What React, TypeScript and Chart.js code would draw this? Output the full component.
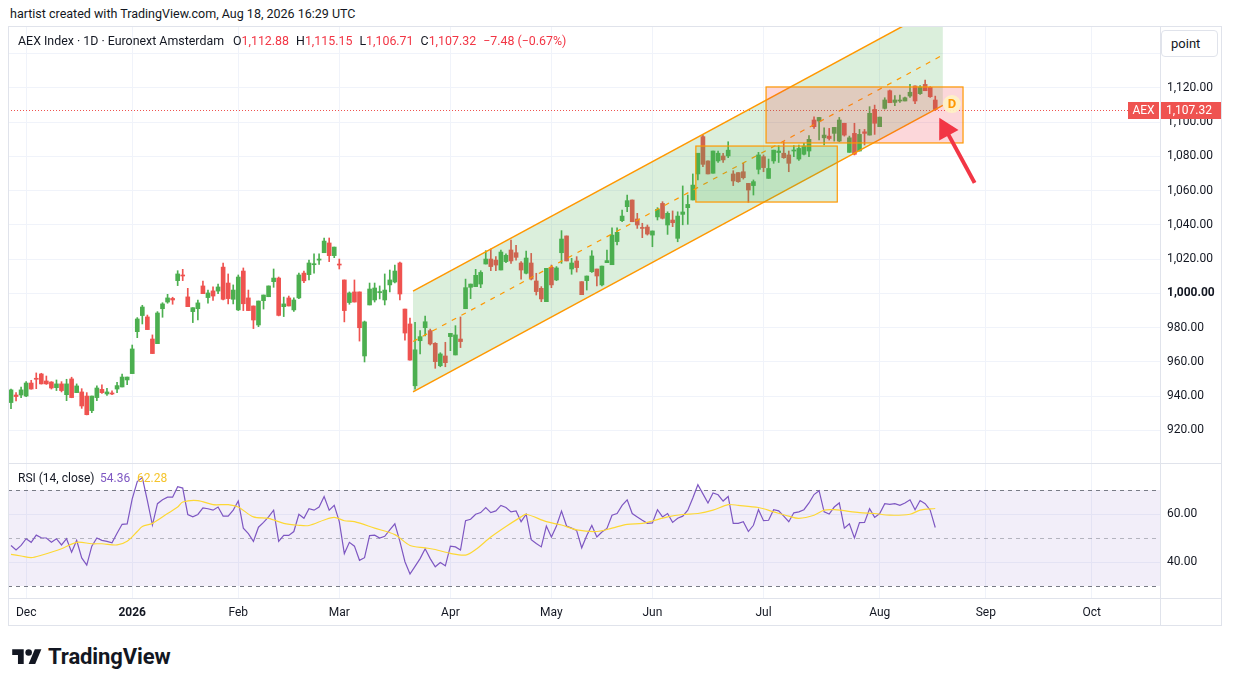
import React, { useEffect, useRef } from 'react';
import { Chart, registerables } from 'chart.js';

Chart.register(...registerables);

const FONT = 'Roboto, "Noto Sans", sans-serif';
const TEXT = '#131722';
const UP = '#4caf50';
const DOWN = '#ef5350';
const GRID = '#f0f3fa';
const ORANGE = '#ff9800';
const LINE = '#e0e3eb';

// AEX Index daily bars, 26 Nov 2025 .. 18 Aug 2026 (bar index 0..183)
const opens = [
  936.2, 940.6, 940.6, 940.0, 947.6, 950.2, 952.9, 948.8, 948.2, 944.9,
  947.1, 940.8, 950.0, 942.0, 942.4, 940.0, 931.5, 939.1, 943.9, 941.2,
  941.8, 944.1, 945.3, 949.4, 953.1, 977.6, 987.0, 986.2, 973.3, 970.6,
  991.0, 994.9, 997.0, 1007.4, 1010.7, 997.9, 989.3, 991.0, 1004.3, 997.5,
  1001.4, 1001.3, 1015.3, 1006.0, 996.5, 990.3, 1013.0, 997.3, 992.6, 981.5,
  995.7, 998.0, 1006.8, 1008.9, 992.2, 997.3, 990.3, 997.3, 1011.8, 1010.9,
  1016.7, 1019.4, 1023.7, 1029.4, 1022.0, 1016.9, 1007.8, 994.6, 1000.8, 1000.8,
  963.4, 993.2, 996.1, 1000.4, 996.1, 1004.9, 1006.6, 1017.7, 990.8, 982.1,
  946.0, 972.3, 979.9, 978.2, 970.8, 957.7, 963.4, 974.7, 964.0, 973.3,
  991.0, 1003.5, 1003.9, 1005.4, 1017.1, 1020.0, 1019.4, 1013.6, 1018.5, 1025.3,
  1023.7, 1017.7, 1011.7, 1017.7, 1007.2, 1002.9, 995.1, 1015.2, 1007.8, 1023.7,
  1033.5, 1014.2, 1018.9, 1006.8, 1007.4, 1012.6, 1014.2, 1004.9, 1017.9, 1016.7,
  1030.2, 1042.4, 1050.6, 1054.5, 1043.4, 1038.3, 1038.7, 1034.0, 1044.6, 1052.5,
  1039.9, 1042.8, 1032.1, 1046.1, 1050.0, 1054.5, 1069.7, 1091.5, 1077.3, 1070.1,
  1077.3, 1080.2, 1080.2, 1069.7, 1070.5, 1071.0, 1064.2, 1062.9, 1072.4, 1079.8,
  1067.1, 1077.3, 1082.2, 1081.8, 1080.8, 1083.1, 1078.4, 1081.2, 1083.1, 1101.2,
  1100.6, 1090.8, 1091.8, 1093.4, 1088.9, 1099.3, 1082.3, 1093.4, 1083.1, 1094.3,
  1092.4, 1107.4, 1097.3, 1108.0, 1118.3, 1111.5, 1112.3, 1112.3, 1115.2, 1121.1,
  1116.6, 1122.0, 1120.3, 1112.88,
];
const highs = [
  944.1, 942.0, 945.3, 948.4, 949.2, 953.5, 953.3, 951.7, 948.4, 949.4,
  948.4, 949.8, 951.0, 947.1, 944.3, 942.0, 940.0, 945.9, 946.5, 944.5,
  943.0, 948.0, 952.9, 951.1, 969.8, 985.8, 993.0, 987.3, 975.7, 989.3,
  994.5, 999.4, 997.7, 1013.2, 1014.0, 1002.9, 991.6, 996.0, 1007.2, 1001.9,
  1003.8, 1005.4, 1017.7, 1011.3, 1004.9, 1010.7, 1014.8, 1001.9, 992.6, 995.5,
  999.0, 1004.3, 1014.2, 1009.5, 997.8, 998.4, 997.3, 1011.8, 1013.0, 1019.4,
  1023.0, 1023.0, 1032.3, 1032.3, 1027.0, 1020.0, 1007.8, 1000.8, 1007.8, 1000.8,
  983.8, 1006.0, 1006.0, 1004.3, 1011.3, 1013.6, 1016.5, 1018.3, 990.8, 985.6,
  983.0, 978.2, 986.7, 979.1, 971.2, 965.3, 971.4, 976.6, 981.1, 986.2,
  1008.3, 1005.4, 1014.0, 1013.2, 1024.9, 1025.9, 1021.4, 1025.3, 1023.0, 1031.1,
  1028.0, 1018.5, 1024.7, 1023.3, 1011.7, 1003.9, 1014.6, 1016.5, 1015.6, 1036.6,
  1033.5, 1020.4, 1021.4, 1006.8, 1010.1, 1024.9, 1014.2, 1015.9, 1025.3, 1038.3,
  1038.3, 1048.6, 1057.4, 1054.5, 1046.7, 1040.9, 1039.9, 1036.4, 1050.0, 1053.5,
  1047.6, 1048.1, 1047.6, 1062.7, 1057.4, 1069.7, 1081.8, 1092.4, 1077.3, 1083.1,
  1083.1, 1081.8, 1088.5, 1071.6, 1070.5, 1075.9, 1064.2, 1066.2, 1082.3, 1080.8,
  1078.4, 1083.6, 1086.2, 1088.5, 1083.1, 1086.2, 1086.6, 1087.6, 1092.1, 1103.1,
  1102.7, 1096.7, 1096.3, 1096.9, 1102.7, 1099.3, 1091.8, 1099.3, 1095.7, 1095.7,
  1109.0, 1109.9, 1102.9, 1114.2, 1118.7, 1115.4, 1115.8, 1114.6, 1122.0, 1121.1,
  1121.3, 1124.5, 1120.7, 1115.15,
];
const lows = [
  932.7, 937.1, 939.1, 939.7, 944.0, 944.3, 947.0, 946.8, 944.1, 943.2,
  942.4, 937.3, 939.0, 942.0, 932.8, 929.0, 930.3, 937.3, 941.6, 940.4,
  940.8, 942.0, 945.3, 946.7, 953.1, 974.1, 982.1, 978.8, 964.8, 970.6,
  986.0, 994.2, 993.6, 1004.5, 1007.4, 992.2, 982.9, 984.4, 999.8, 994.2,
  995.8, 999.8, 996.1, 993.8, 993.8, 989.9, 989.9, 989.9, 979.4, 980.5,
  990.8, 998.0, 1003.5, 986.8, 986.4, 992.6, 989.4, 996.9, 1006.2, 1007.8,
  1011.8, 1016.9, 1023.7, 1018.5, 1020.8, 1014.2, 983.3, 993.6, 994.9, 972.1,
  959.9, 993.2, 994.9, 996.7, 993.2, 1000.8, 1006.0, 996.1, 972.7, 961.0,
  944.0, 964.6, 975.1, 969.8, 956.2, 957.1, 957.1, 966.5, 964.0, 968.3,
  991.0, 996.9, 1003.9, 1003.3, 1017.1, 1013.2, 1013.2, 1013.6, 1017.9, 1017.5,
  1019.4, 1008.3, 1011.3, 1007.8, 999.0, 995.1, 995.1, 1003.3, 1007.4, 1017.5,
  1018.9, 1011.1, 1012.4, 999.2, 1001.9, 1012.2, 1004.3, 1004.3, 1017.9, 1016.7,
  1028.2, 1041.8, 1047.6, 1041.8, 1037.9, 1032.5, 1034.0, 1027.2, 1042.8, 1043.4,
  1034.4, 1038.9, 1030.1, 1040.0, 1040.3, 1054.5, 1066.2, 1074.0, 1069.7, 1070.1,
  1076.4, 1076.4, 1079.2, 1062.9, 1064.8, 1066.7, 1053.1, 1057.4, 1069.7, 1071.0,
  1067.1, 1075.9, 1076.4, 1078.8, 1071.0, 1079.8, 1077.6, 1080.8, 1079.8, 1096.3,
  1089.5, 1086.6, 1089.5, 1088.9, 1088.5, 1091.8, 1082.3, 1080.8, 1083.1, 1086.6,
  1092.4, 1092.8, 1097.3, 1107.6, 1111.3, 1109.6, 1111.5, 1112.3, 1114.4, 1110.8,
  1116.2, 1118.3, 1114.4, 1106.71,
];
const closes = [
  943.6, 939.7, 943.6, 947.6, 944.1, 949.8, 947.1, 947.1, 944.7, 947.1,
  943.2, 947.1, 939.1, 945.9, 934.2, 929.1, 940.0, 944.7, 942.0, 942.4,
  941.2, 946.1, 951.1, 951.1, 967.5, 985.0, 992.0, 978.8, 964.8, 988.5,
  993.8, 997.3, 996.1, 1011.3, 1010.1, 992.2, 991.6, 994.4, 999.8, 1000.2,
  998.4, 1003.7, 996.5, 996.9, 1001.9, 1009.5, 993.9, 989.9, 984.4, 995.5,
  999.0, 1004.3, 1008.9, 987.1, 993.8, 992.6, 996.1, 1010.7, 1007.3, 1017.7,
  1017.1, 1020.0, 1030.5, 1022.0, 1027.0, 1016.5, 989.9, 1000.2, 994.9, 979.9,
  983.3, 1002.5, 1003.1, 1000.8, 1001.9, 1007.8, 1013.0, 999.6, 976.8, 961.0,
  967.0, 974.7, 983.4, 970.4, 960.1, 964.6, 959.5, 976.6, 975.7, 971.8,
  1003.3, 1005.4, 1010.5, 1012.2, 1020.0, 1015.6, 1016.5, 1024.1, 1022.2, 1018.9,
  1021.0, 1013.6, 1020.6, 1008.3, 1001.0, 996.7, 1014.6, 1004.9, 1014.8, 1031.7,
  1018.9, 1017.7, 1015.0, 999.2, 1010.1, 1021.8, 1010.1, 1015.9, 1019.1, 1034.0,
  1035.6, 1045.1, 1054.1, 1041.8, 1039.9, 1037.9, 1034.6, 1036.4, 1049.0, 1043.8,
  1046.7, 1041.2, 1045.1, 1047.5, 1051.9, 1063.2, 1081.8, 1075.3, 1069.7, 1083.1,
  1081.8, 1077.9, 1083.6, 1065.6, 1065.2, 1067.5, 1060.3, 1065.2, 1080.8, 1073.4,
  1072.9, 1083.6, 1083.1, 1079.2, 1075.9, 1083.6, 1084.6, 1086.0, 1089.9, 1097.3,
  1102.7, 1092.4, 1090.4, 1096.9, 1101.2, 1092.4, 1090.8, 1081.2, 1092.8, 1093.4,
  1105.1, 1099.3, 1102.9, 1112.9, 1111.3, 1112.9, 1112.7, 1114.2, 1117.4, 1112.3,
  1120.5, 1118.3, 1114.8, 1107.32,
];

// RSI(14, close), one value per bar
const rsiValues = [
  46.9, 45.0, 46.9, 49.7, 48.2, 51.2, 50.1, 50.0, 48.2, 49.7,
  47.1, 49.7, 44.1, 49.0, 41.7, 38.7, 46.6, 50.0, 49.0, 48.6,
  48.0, 52.0, 55.7, 55.9, 66.3, 73.5, 75.2, 65.6, 55.4, 64.3,
  65.9, 67.0, 67.0, 71.4, 70.8, 59.8, 58.8, 59.8, 62.5, 62.2,
  61.6, 62.9, 59.1, 59.1, 61.6, 65.4, 54.1, 51.8, 48.6, 54.5,
  56.5, 58.8, 61.6, 48.6, 51.1, 51.1, 52.7, 59.9, 58.2, 62.2,
  61.6, 62.9, 67.3, 61.6, 63.6, 56.8, 43.5, 48.2, 46.6, 40.7,
  41.8, 51.0, 51.2, 50.0, 50.7, 53.4, 55.9, 48.6, 40.1, 35.0,
  38.2, 41.4, 45.5, 41.4, 38.0, 39.8, 38.4, 46.6, 46.3, 45.0,
  57.2, 57.8, 59.9, 60.6, 62.7, 60.6, 61.3, 63.6, 62.7, 60.9,
  61.3, 56.8, 59.9, 49.3, 47.7, 46.3, 55.0, 50.4, 55.0, 61.2,
  55.0, 54.1, 53.1, 45.9, 51.0, 55.2, 50.4, 52.5, 54.0, 59.5,
  60.2, 63.6, 65.9, 60.2, 58.8, 57.4, 56.1, 56.3, 61.8, 58.8,
  60.2, 56.5, 58.2, 59.1, 61.6, 66.7, 72.2, 68.4, 64.6, 68.8,
  68.0, 65.4, 67.3, 56.1, 56.1, 56.8, 52.7, 55.3, 61.8, 57.2,
  57.4, 61.8, 61.3, 59.1, 56.8, 60.5, 60.9, 61.8, 64.6, 68.1,
  69.7, 60.9, 60.0, 62.9, 64.6, 54.1, 55.9, 50.0, 56.4, 56.5,
  62.2, 58.6, 60.2, 64.3, 64.0, 64.3, 63.6, 64.6, 65.9, 61.8,
  65.6, 64.3, 61.6, 54.36,
];

// RSI-based moving average, read at these bars
const maBars = [
  0, 2, 4, 6, 10, 13, 16, 18, 21, 23, 25, 26, 28, 31, 33, 34, 37, 40, 43, 45,
  48, 51, 54, 57, 59, 62, 64, 66, 68, 72, 76, 79, 82, 84, 87, 90, 92, 95, 98, 101,
  102, 106, 109, 112, 116, 119, 122, 125, 127, 130, 133, 136, 139, 142, 144, 148, 151, 154, 156, 159,
  161, 163, 168, 171, 174, 178, 180, 183,
];
const maValues = [
  43.2, 42.5, 41.8, 42.8, 45.5, 48.2, 47.6, 47.6, 47.1, 48.6, 52.7, 54.8, 56.1, 60.2, 62.9, 65.0, 65.6, 63.9, 63.9, 62.9,
  58.8, 58.2, 56.1, 55.3, 55.2, 57.5, 58.6, 57.2, 56.8, 54.1, 51.4, 46.9, 45.9, 45.2, 43.6, 42.9, 45.2, 50.4, 54.8, 58.8,
  59.9, 56.8, 55.4, 53.4, 52.7, 54.1, 55.7, 56.1, 57.1, 58.8, 59.8, 60.2, 61.6, 63.9, 63.6, 62.7, 60.9, 59.1, 58.2, 59.5,
  61.6, 61.8, 60.6, 60.2, 59.5, 59.9, 61.6, 62.28,
];

// time axis: first bar of each month
const monthBars = [3, 24, 45, 65, 87, 107, 127, 149, 172, 193, 214];
const monthLabels = ['Dec', '2026', 'Feb', 'Mar', 'Apr', 'May', 'Jun', 'Jul', 'Aug', 'Sep', 'Oct'];

const priceTicks = [920, 940, 960, 980, 1000, 1020, 1040, 1060, 1080, 1100, 1120, 1140];
const rsiTicks = [40, 60];
const rsiBands = [70, 50, 30];

// drawings, anchored in (bar index, price)
const channelBars = [79.6, 184.5];
const channelLower = [942.4, 1109.7];
const channelUpper = [1001.3, 1168.6];
const greenBoxBars = [135.6, 163.6];
const greenBoxPrices = [1053.3, 1086.0];
const pinkBoxBars = [149.5, 188.5];
const pinkBoxPrices = [1087.8, 1120.5];
const arrowTail = [190.8, 1064.5];
const arrowTip = [183.8, 1102.5];
const dMark = [186.3, 1110.5];

const X_MIN = -0.594;
const X_MAX = 227.5;
const AXIS_W = 62;

const fmt = (v: number) =>
  v.toLocaleString('en-US', { minimumFractionDigits: 2, maximumFractionDigits: 2 });

const zeroPad = (s: any) => {
  s.paddingLeft = 0;
  s.paddingRight = 0;
  s.paddingTop = 0;
  s.paddingBottom = 0;
};

const monthAxis = (showLabels: boolean) => ({
  type: 'linear' as const,
  min: X_MIN,
  max: X_MAX,
  offset: false,
  grid: { color: GRID, drawTicks: false, offset: false },
  border: { display: false },
  afterBuildTicks: (s: any) => {
    s.ticks = monthBars.map((v) => ({ value: v }));
  },
  ticks: {
    display: showLabels,
    autoSkip: false,
    maxRotation: 0,
    padding: 8,
    color: TEXT,
    font: (ctx: any) => ({ family: FONT, size: 12, weight: ctx.tick && ctx.tick.value === 24 ? 'bold' : 'normal' }),
    callback: (v: any) => {
      const i = monthBars.indexOf(v);
      return i >= 0 ? monthLabels[i] : '';
    },
  },
  afterFit: (s: any) => {
    s.height = showLabels ? 28 : 0;
    zeroPad(s);
  },
});

const drawings = {
  id: 'drawings',
  beforeDatasetsDraw(chart: any) {
    const { ctx, chartArea, scales } = chart;
    const py = Math.round(scales.y.getPixelForValue(closes[closes.length - 1])) + 0.5;
    ctx.save();
    ctx.strokeStyle = DOWN;
    ctx.lineWidth = 1;
    ctx.setLineDash([1, 2]);
    ctx.beginPath();
    ctx.moveTo(chartArea.left, py);
    ctx.lineTo(chartArea.right, py);
    ctx.stroke();
    ctx.restore();
  },
  afterDatasetsDraw(chart: any) {
    const { ctx, chartArea, scales } = chart;
    const X = (v: number) => scales.x.getPixelForValue(v);
    const Y = (v: number) => scales.y.getPixelForValue(v);
    ctx.save();
    ctx.beginPath();
    ctx.rect(chartArea.left, chartArea.top, chartArea.right - chartArea.left, chartArea.bottom - chartArea.top);
    ctx.clip();

    // parallel channel
    const x0 = X(channelBars[0]);
    const x1 = X(channelBars[1]);
    ctx.fillStyle = 'rgba(76,175,80,0.2)';
    ctx.beginPath();
    ctx.moveTo(x0, Y(channelLower[0]));
    ctx.lineTo(x1, Y(channelLower[1]));
    ctx.lineTo(x1, Y(channelUpper[1]));
    ctx.lineTo(x0, Y(channelUpper[0]));
    ctx.closePath();
    ctx.fill();
    ctx.strokeStyle = ORANGE;
    ctx.lineWidth = 1.5;
    [channelLower, channelUpper].forEach((p) => {
      ctx.beginPath();
      ctx.moveTo(x0, Y(p[0]));
      ctx.lineTo(x1, Y(p[1]));
      ctx.stroke();
    });
    ctx.setLineDash([5, 6]);
    ctx.lineWidth = 1.2;
    ctx.beginPath();
    ctx.moveTo(x0, Y((channelLower[0] + channelUpper[0]) / 2));
    ctx.lineTo(x1, Y((channelLower[1] + channelUpper[1]) / 2));
    ctx.stroke();
    ctx.setLineDash([]);

    // rectangles
    const box = (bars: number[], prices: number[], fill: string) => {
      const l = X(bars[0]);
      const r = X(bars[1]);
      const t = Y(prices[1]);
      const b = Y(prices[0]);
      ctx.fillStyle = fill;
      ctx.fillRect(l, t, r - l, b - t);
      ctx.strokeStyle = ORANGE;
      ctx.lineWidth = 1.2;
      ctx.strokeRect(l, t, r - l, b - t);
    };
    box(greenBoxBars, greenBoxPrices, 'rgba(76,175,80,0.2)');
    box(pinkBoxBars, pinkBoxPrices, 'rgba(242,54,69,0.2)');

    // arrow
    const sx = X(arrowTail[0]);
    const sy = Y(arrowTail[1]);
    const tx = X(arrowTip[0]);
    const ty = Y(arrowTip[1]);
    const len = Math.hypot(tx - sx, ty - sy);
    const ux = (tx - sx) / len;
    const uy = (ty - sy) / len;
    const hl = 20;
    const hw = 11;
    const bx = tx - ux * hl;
    const by = ty - uy * hl;
    ctx.strokeStyle = '#f23645';
    ctx.fillStyle = '#f23645';
    ctx.lineWidth = 4;
    ctx.beginPath();
    ctx.moveTo(sx, sy);
    ctx.lineTo(bx + ux * 2, by + uy * 2);
    ctx.stroke();
    ctx.beginPath();
    ctx.moveTo(tx, ty);
    ctx.lineTo(bx - uy * hw, by + ux * hw);
    ctx.lineTo(bx + uy * hw, by - ux * hw);
    ctx.closePath();
    ctx.fill();

    // "D" label
    const dx = X(dMark[0]);
    const dy = Y(dMark[1]);
    ctx.fillStyle = 'rgba(255,243,196,0.9)';
    ctx.beginPath();
    ctx.arc(dx, dy, 9, 0, Math.PI * 2);
    ctx.fill();
    ctx.fillStyle = ORANGE;
    ctx.font = `bold 13px ${FONT}`;
    ctx.textAlign = 'center';
    ctx.textBaseline = 'middle';
    ctx.fillText('D', dx, dy + 0.5);
    ctx.restore();
  },
  afterDraw(chart: any) {
    const { ctx, chartArea, scales } = chart;
    const last = closes[closes.length - 1];
    const py = Math.round(scales.y.getPixelForValue(last));
    const r = chartArea.right;
    ctx.save();
    ctx.fillStyle = DOWN;
    ctx.fillRect(r - 32, py - 8, 31, 17);
    ctx.fillRect(r + 1, py - 8, AXIS_W - 2, 17);
    ctx.fillStyle = '#ffffff';
    ctx.font = `12px ${FONT}`;
    ctx.textBaseline = 'middle';
    ctx.textAlign = 'center';
    ctx.fillText('AEX', r - 16.5, py + 0.5);
    ctx.textAlign = 'left';
    ctx.fillText(fmt(last), r + 6, py + 0.5);
    ctx.restore();
  },
};

const rsiLevels = {
  id: 'rsiLevels',
  beforeDatasetsDraw(chart: any) {
    const { ctx, chartArea, scales } = chart;
    const Y = (v: number) => scales.y.getPixelForValue(v);
    ctx.save();
    ctx.fillStyle = 'rgba(126,87,194,0.1)';
    ctx.fillRect(chartArea.left, Y(rsiBands[0]), chartArea.right - chartArea.left, Y(rsiBands[2]) - Y(rsiBands[0]));
    ctx.lineWidth = 1;
    ctx.setLineDash([4, 4]);
    rsiBands.forEach((v, i) => {
      ctx.strokeStyle = i === 1 ? 'rgba(120,123,134,0.5)' : '#787b86';
      const y = Math.round(Y(v)) + 0.5;
      ctx.beginPath();
      ctx.moveTo(chartArea.left, y);
      ctx.lineTo(chartArea.right, y);
      ctx.stroke();
    });
    ctx.restore();
  },
};

function PriceChart() {
  const ref = useRef<HTMLCanvasElement>(null);
  useEffect(() => {
    if (!ref.current) return;
    const colors = closes.map((c, i) => (c >= opens[i] ? UP : DOWN));
    const chart = new Chart(ref.current, {
      type: 'bar',
      data: {
        datasets: [
          {
            data: closes.map((_, i) => ({ x: i, y: [lows[i], highs[i]] })) as any,
            backgroundColor: colors,
            barThickness: 1,
            grouped: false,
          },
          {
            data: closes.map((c, i) => ({ x: i, y: [opens[i], c] })) as any,
            backgroundColor: colors,
            barThickness: 4,
            minBarLength: 1,
            grouped: false,
          },
        ],
      },
      options: {
        responsive: false,
        animation: false,
        layout: { padding: 0 },
        plugins: { legend: { display: false }, tooltip: { enabled: false } },
        scales: {
          x: monthAxis(false) as any,
          y: {
            position: 'right',
            min: 900.9,
            max: 1156.1,
            grid: { color: GRID, drawTicks: false },
            border: { display: false },
            afterBuildTicks: (s: any) => {
              s.ticks = priceTicks.map((v) => ({ value: v }));
            },
            ticks: {
              padding: 7,
              color: TEXT,
              font: (ctx: any) => ({ family: FONT, size: 12, weight: ctx.tick && ctx.tick.value === 1000 ? 'bold' : 'normal' }),
              callback: (v: any) => (v === 1140 ? '' : fmt(v)),
            },
            afterFit: (s: any) => {
              s.width = AXIS_W;
              zeroPad(s);
            },
          },
        },
      },
      plugins: [drawings],
    });
    return () => chart.destroy();
  }, []);
  return <canvas ref={ref} width={1214} height={437} style={{ position: 'absolute', left: 8, top: 26 }} />;
}

function RsiChart() {
  const ref = useRef<HTMLCanvasElement>(null);
  useEffect(() => {
    if (!ref.current) return;
    const chart = new Chart(ref.current, {
      type: 'line',
      data: {
        datasets: [
          {
            data: maBars.map((b, i) => ({ x: b, y: maValues[i] })),
            borderColor: '#fdd835',
            borderWidth: 1.2,
            pointRadius: 0,
            tension: 0.3,
          },
          {
            data: rsiValues.map((v, i) => ({ x: i, y: v })),
            borderColor: '#7e57c2',
            borderWidth: 1.2,
            pointRadius: 0,
          },
        ],
      },
      options: {
        responsive: false,
        animation: false,
        layout: { padding: 0 },
        plugins: { legend: { display: false }, tooltip: { enabled: false } },
        scales: {
          x: monthAxis(true) as any,
          y: {
            position: 'right',
            min: 25,
            max: 81.25,
            grid: { color: GRID, drawTicks: false },
            border: { display: false },
            afterBuildTicks: (s: any) => {
              s.ticks = rsiTicks.map((v) => ({ value: v }));
            },
            ticks: {
              padding: 7,
              color: TEXT,
              font: { family: FONT, size: 12 },
              callback: (v: any) => fmt(v),
            },
            afterFit: (s: any) => {
              s.width = AXIS_W;
              zeroPad(s);
            },
          },
        },
      },
      plugins: [rsiLevels],
    });
    return () => chart.destroy();
  }, []);
  return <canvas ref={ref} width={1214} height={163} style={{ position: 'absolute', left: 8, top: 463 }} />;
}

const txt = (left: number, cy: number, extra: React.CSSProperties = {}): React.CSSProperties => ({
  position: 'absolute',
  left,
  top: cy - 8,
  height: 16,
  lineHeight: '16px',
  fontSize: 12,
  color: TEXT,
  whiteSpace: 'pre',
  ...extra,
});

const red = { color: '#f23645' };
const gap = { marginLeft: 7 };

export default function App() {
  return (
    <div
      style={{
        position: 'absolute',
        left: 0,
        top: 0,
        width: 1233,
        height: 687,
        background: '#ffffff',
        fontFamily: FONT,
        overflow: 'hidden',
      }}
    >
      <div style={txt(10, 14, { fontSize: 12.5 })}>hartist created with TradingView.com, Aug 18, 2026 16:29 UTC</div>
      <PriceChart />
      <RsiChart />

      {/* pane frame and separators */}
      <div style={{ position: 'absolute', left: 8, top: 26, width: 1214, height: 600, border: `1px solid ${LINE}`, boxSizing: 'border-box', pointerEvents: 'none' }} />
      <div style={{ position: 'absolute', left: 1160, top: 26, width: 1, height: 600, background: LINE }} />
      <div style={{ position: 'absolute', left: 8, top: 463, width: 1214, height: 1, background: LINE }} />
      <div style={{ position: 'absolute', left: 8, top: 598, width: 1214, height: 1, background: LINE }} />

      {/* legend row */}
      <div style={txt(18, 41, { fontSize: 12.4 })}>
        <span>AEX Index · 1D · Euronext Amsterdam</span>
        <span style={{ marginLeft: 9 }}>O<span style={red}>1,112.88</span></span>
        <span style={gap}>H<span style={red}>1,115.15</span></span>
        <span style={gap}>L<span style={red}>1,106.71</span></span>
        <span style={gap}>C<span style={red}>1,107.32</span></span>
        <span style={{ ...gap, ...red }}>−7.48 (−0.67%)</span>
      </div>

      {/* unit button */}
      <div
        style={{
          position: 'absolute',
          left: 1161,
          top: 30,
          width: 57,
          height: 27,
          border: `1px solid ${LINE}`,
          borderRadius: 4,
          boxSizing: 'border-box',
          background: '#ffffff',
          fontSize: 13,
          lineHeight: '25px',
          paddingLeft: 9,
          color: TEXT,
        }}
      >
        point
      </div>

      {/* RSI legend */}
      <div style={txt(18, 478)}>RSI (14, close)</div>
      <div style={txt(100, 478, { color: '#7e57c2' })}>54.36</div>
      <div style={txt(137, 478, { color: '#f5c42c' })}>62.28</div>

      {/* TradingView logo */}
      <svg width={30} height={23} viewBox="0 0 36 28" style={{ position: 'absolute', left: 12, top: 646 }}>
        <path d="M14 22H7V11H0V4h14v18z" fill={TEXT} />
        <path d="M28 22h-8l7.5-18h8L28 22z" fill={TEXT} />
        <circle cx="20" cy="8" r="4" fill={TEXT} />
      </svg>
      <div style={{ position: 'absolute', left: 48, top: 643, fontSize: 22, fontWeight: 700, color: TEXT, lineHeight: '27px', letterSpacing: -0.1 }}>
        TradingView
      </div>
    </div>
  );
}
